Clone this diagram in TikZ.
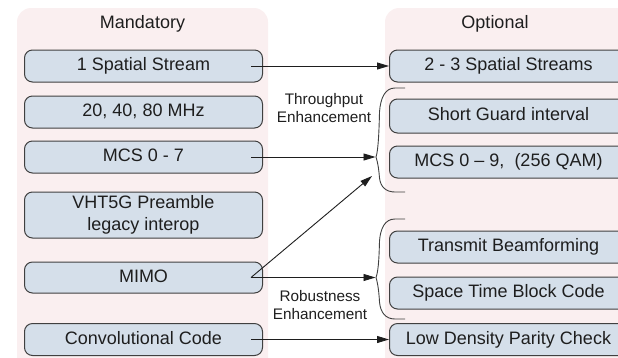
\documentclass[tikz,border=0pt]{standalone}
\usepackage{fontspec}
\setmainfont{Liberation Sans}
\usetikzlibrary{arrows.meta}
\definecolor{panelpink}{HTML}{FAEFF0}
\definecolor{boxblue}{HTML}{D5DFEA}
\definecolor{edgegrey}{HTML}{404040}
\definecolor{inkgrey}{HTML}{1E1E1E}

\begin{document}
\begin{tikzpicture}[x=1pt,y=-1pt,
  item/.style={draw=edgegrey, fill=boxblue, rounded corners=8pt, line width=1pt,
    minimum width=238pt, minimum height=32pt, inner sep=0pt, align=center,
    text height=13pt, text depth=4pt, text=inkgrey,
    font=\fontsize{18}{22}\selectfont},
  panel/.style={fill=panelpink, rounded corners=14pt},
  head/.style={anchor=base, text=inkgrey, font=\fontsize{18}{22}\selectfont},
  note/.style={align=center, text=inkgrey, inner sep=0pt,
    font=\fontsize{15.3}{18.5}\selectfont},
  link/.style={draw=inkgrey, line width=0.9pt, -{Triangle[length=12pt,width=7pt]}},
  bracket/.style={draw=edgegrey, line width=0.9pt}
]
\useasboundingbox (0,0) rectangle (618,357);
\clip (0,0) rectangle (618,357);

% column backgrounds
\fill[panel] (17,8) rectangle (268,380);
\fill[panel] (385,8) rectangle (645,380);

% column headings
\node[head] (mand) at (142.5,28.5) {Mandatory};
\node[head] (opt) at (495,28.5) {Optional};

% mandatory features
\node[item] (b1) at (143.5,66) {1 Spatial Stream};
\node[item] (b2) at (143.5,112) {20, 40, 80 MHz};
\node[item] (b3) at (143.5,157) {MCS 0 - 7};
\node[item, minimum height=46pt, text height=35pt] (b4) at (143.5,215) {VHT5G Preamble\\legacy interop};
\node[item, minimum height=31pt] (b5) at (143.5,277.5) {MIMO};
\node[item] (b6) at (143.5,339.5) {Convolutional Code};

% optional features
\node[item] (r1) at (508.5,66) {2 - 3 Spatial Streams};
\node[item, minimum height=34pt] (r2) at (508.5,116) {Short Guard interval};
\node[item] (r3) at (508.5,162) {MCS 0 – 9,\ \ (256 QAM)};
\node[item] (r4) at (508.5,247) {Transmit Beamforming};
\node[item] (r5) at (508.5,293) {Space Time Block Code};
\node[item] (r6) at (508.5,339.5) {Low Density Parity Check};

% group labels
\node[note] (thr) at (324,108) {Throughput\\Enhancement};
\node[note] (rob) at (320,305) {Robustness\\Enhancement};

% grouping brackets
\draw[bracket] (405,88) -- (395,88)
  .. controls (385,88) and (380.5,98) .. (379.5,112)
  .. controls (379,135) and (378,151) .. (376,157)
  .. controls (378,163) and (379,171) .. (379.5,178)
  .. controls (380.5,187) and (386,192) .. (395,192) -- (405,192);
\draw[bracket] (405,219) -- (395,219)
  .. controls (385,219) and (380.5,228) .. (379.5,241)
  .. controls (379,262) and (378,272) .. (376,277.5)
  .. controls (378,284) and (379,293) .. (379.5,302)
  .. controls (380.5,313) and (386,319) .. (395,319) -- (405,319);
\coordinate (tp1) at (375.5,157);
\coordinate (tp2) at (375.5,277.5);
\coordinate (dg) at (372,176);

% connectors
\draw[link] ([xshift=-12pt]b1.east) -- (r1.west);
\draw[link] ([xshift=-12pt]b3.east) -- (tp1);
\draw[link] ([xshift=-12pt]b5.east) -- (dg);
\draw[link] ([xshift=-12pt]b5.east) -- (tp2);
\draw[link] ([xshift=-12pt]b6.east) -- (r6.west);
\end{tikzpicture}
\end{document}
